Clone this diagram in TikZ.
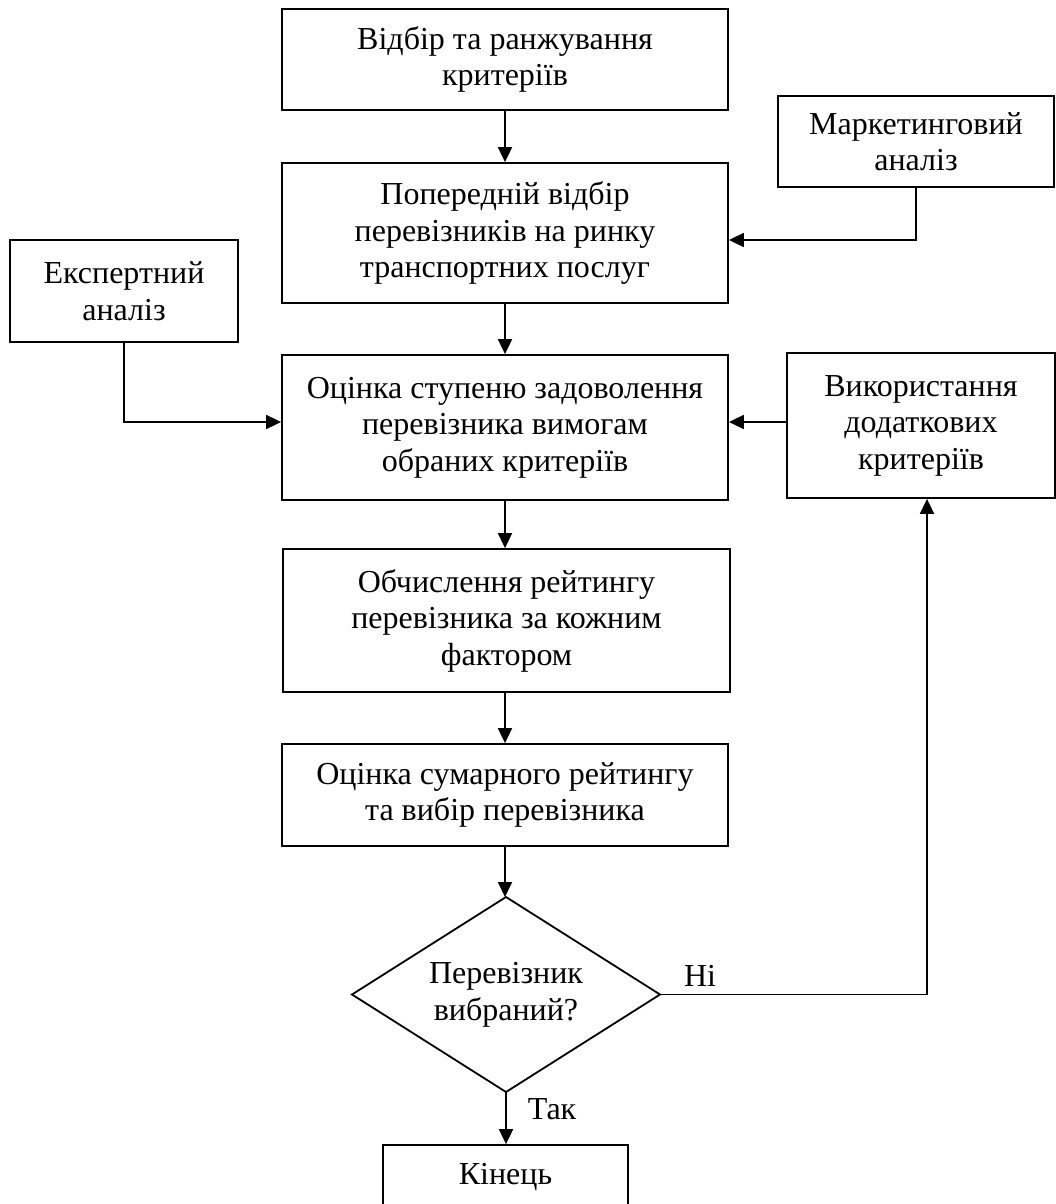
\documentclass[tikz,border=0pt]{standalone}
\usepackage{fontspec}
\setmainfont{Liberation Serif}
\usetikzlibrary{arrows.meta}
\begin{document}
\begin{tikzpicture}[x=1pt,y=-1pt,
  box/.style={draw,line width=1.8pt,align=center,inner sep=0pt,font=\fontsize{32}{36.5}\selectfont},
  lbl/.style={font=\fontsize{32}{36.5}\selectfont,inner sep=0pt},
  arr/.style={line width=1.8pt,-{Triangle[length=15pt,width=14pt]}},
  ln/.style={line width=1.8pt}]
\useasboundingbox (0,0) rectangle (1056,1204);
\node[box,minimum width=446pt,minimum height=101pt] (b1) at (505,59.5) {Відбір та ранжування\\критеріїв};
\node[box,minimum width=446pt,minimum height=140pt] (b2) at (505,233) {Попередній відбір\\перевізників на ринку\\транспортних послуг};
\node[box,minimum width=276pt,minimum height=91pt] (mk) at (916,141.5) {Маркетинговий\\аналіз};
\node[box,minimum width=228pt,minimum height=102pt] (ex) at (124,291) {Експертний\\аналіз};
\node[box,minimum width=446pt,minimum height=145pt] (b3) at (505,427.5) {Оцінка ступеню задоволення\\перевізника вимогам\\обраних критеріїв};
\node[box,minimum width=268pt,minimum height=145pt] (dod) at (921,425.5) {Використання\\додаткових\\критеріїв};
\node[box,minimum width=447pt,minimum height=143pt] (b4) at (506.5,620.5) {Обчислення рейтингу\\перевізника за кожним\\фактором};
\node[box,minimum width=446pt,minimum height=102pt] (b5) at (505,795) {Оцінка сумарного рейтингу\\та вибір перевізника};
\node[draw,line width=1.8pt,minimum width=245pt,minimum height=65pt,inner sep=0pt] (end) at (505.5,1177.5) {};
\node[lbl] (endt) at (505.5,1177) {Кінець};
\coordinate (dN) at (506,897);
\coordinate (dE) at (660,994.5);
\coordinate (dS) at (506,1092);
\coordinate (dW) at (352,994.5);
\draw[ln] (dW) -- (dN) -- (dE) -- (dS) -- cycle;
\node[lbl,align=center] (dt) at (506,995) {Перевізник\\вибраний?};
\node[lbl] (ni) at (700,976) {Ні};
\node[lbl] (tak) at (552,1109) {Так};
\draw[arr] (b1.south) -- (b2.north);
\draw[arr] (mk.south) |- ([yshift=-7pt]b2.east);
\draw[arr] (b2.south) -- (b3.north);
\draw[arr] (ex.south) |- ([yshift=5.5pt]b3.west);
\draw[arr] (dod.west |- 0,422) -- (b3.east |- 0,422);
\draw[arr] (b3.south) -- (b3.south |- b4.north);
\draw[arr] (b4.south -| b3.south) -- (b5.north);
\draw[arr] (b5.south) -- (b5.south |- dN);
\draw[arr] (dE) -| ([xshift=6pt]dod.south);
\draw[arr] (dS) -- (dS |- end.north);
\end{tikzpicture}
\end{document}
